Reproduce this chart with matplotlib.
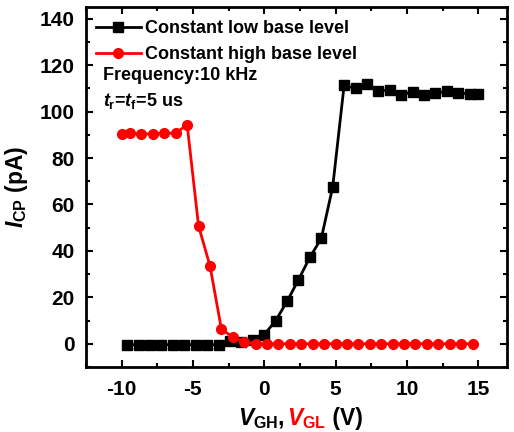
import matplotlib
matplotlib.use('Agg')
from matplotlib import pyplot as plt
from matplotlib.offsetbox import TextArea, HPacker, AnchoredOffsetbox
from matplotlib.ticker import MultipleLocator

plt.rcParams['font.family'] = 'Liberation Sans'
plt.rcParams['font.weight'] = 'bold'
plt.rcParams['axes.unicode_minus'] = False
plt.rcParams['mathtext.fontset'] = 'custom'
plt.rcParams['mathtext.rm'] = 'Liberation Sans:bold'
plt.rcParams['mathtext.it'] = 'Liberation Sans:italic:bold'
plt.rcParams['mathtext.bf'] = 'Liberation Sans:bold'

# Constant low base level (x = V_GH)
low_v = [-9.6, -8.8, -8.0, -7.2, -6.4, -5.6, -4.8, -4.0, -3.2, -2.4, -1.6, -0.8,
         0.0, 0.8, 1.6, 2.4, 3.2, 4.0, 4.8, 5.6, 6.4, 7.2, 8.0, 8.8, 9.6, 10.4,
         11.2, 12.0, 12.8, 13.6, 14.4, 15.0]
low_i = [-0.3, -0.3, -0.3, -0.3, -0.3, -0.3, -0.3, -0.3, -0.3, 1.1, 0.7, 1.9,
         4.0, 10.0, 18.3, 27.6, 37.3, 45.4, 67.6, 111.3, 109.9, 111.9, 108.9, 109.2,
         107.2, 108.5, 107.2, 107.8, 108.7, 108.1, 107.5, 107.5]

# Constant high base level (x = V_GL)
high_v = [-10.0, -9.4, -8.6, -7.8, -7.0, -6.2, -5.4, -4.6, -3.8, -3.0, -2.2, -1.4,
          -0.6, 0.2, 1.0, 1.8, 2.6, 3.4, 4.2, 5.0, 5.8, 6.6, 7.4, 8.2, 9.0, 9.8,
          10.6, 11.4, 12.2, 13.0, 13.8, 14.6]
high_i = [90.3, 90.6, 90.3, 90.5, 90.6, 90.7, 94.3, 50.7, 33.6, 6.4, 2.9, 0.9,
          0.1, 0.1, 0.1, 0.1, 0.1, 0.1, 0.1, 0.1, 0.1, 0.1, 0.1, 0.1, 0.1, 0.1,
          0.1, 0.1, 0.1, 0.1, 0.1, 0.1]

fig = plt.figure(figsize=(5.14, 4.32), dpi=100)
ax = fig.add_axes([0.167, 0.150, 0.819, 0.834])

ax.plot(low_v, low_i, color='black', marker='s', markersize=6.5, linewidth=2,
        label='Constant low base level')
ax.plot(high_v, high_i, color='red', marker='o', markersize=7, linewidth=2,
        label='Constant high base level')

ax.set_xlim(-12.5, 17)
ax.set_ylim(-10, 145)
ax.xaxis.set_major_locator(MultipleLocator(5))
ax.xaxis.set_minor_locator(MultipleLocator(2.5))
ax.yaxis.set_major_locator(MultipleLocator(20))
ax.yaxis.set_minor_locator(MultipleLocator(10))
ax.tick_params(which='both', direction='in', top=True, right=True, width=1.5)
ax.tick_params(which='major', length=5, labelsize=15, pad=8)
ax.tick_params(which='minor', length=3)
ax.tick_params(axis='x', which='major', pad=9)
for lab in ax.get_xticklabels() + ax.get_yticklabels():
    lab.set_fontweight('bold')
for sp in ax.spines.values():
    sp.set_linewidth(2)

leg = ax.legend(loc='upper left', frameon=False, fontsize=13, handlelength=2.5,
                borderaxespad=0.15, labelspacing=0.5, handletextpad=0.25,
                bbox_to_anchor=(0.0, 0.99))

ax.text(0.04, 0.81, 'Frequency:10 kHz', transform=ax.transAxes, fontsize=13,
        fontweight='bold', va='center')
ax.text(0.04, 0.74, r'$t_{\mathrm{r}}$=$t_{\mathrm{f}}$=5 us', transform=ax.transAxes,
        fontsize=13, fontweight='bold', va='center')

ax.set_ylabel(r'$I_{\mathrm{CP}}$ (pA)', fontsize=16.5, fontweight='bold')
ax.yaxis.set_label_coords(-0.133, 0.5)

# two-coloured x label
fs = 16.5
parts = [TextArea(r'$V_{\mathrm{GH}}$, ', textprops=dict(color='black', fontsize=fs, fontweight='bold')),
         TextArea(r'$V_{\mathrm{GL}}$', textprops=dict(color='red', fontsize=fs, fontweight='bold')),
         TextArea(' (V)', textprops=dict(color='black', fontsize=fs, fontweight='bold'))]
box = HPacker(children=parts, align='baseline', pad=0, sep=0)
anchored = AnchoredOffsetbox(loc='center', child=box, pad=0, frameon=False,
                             bbox_to_anchor=(0.51, -0.142), bbox_transform=ax.transAxes,
                             borderpad=0)
ax.add_artist(anchored)

fig.savefig('out.png', dpi=100)
